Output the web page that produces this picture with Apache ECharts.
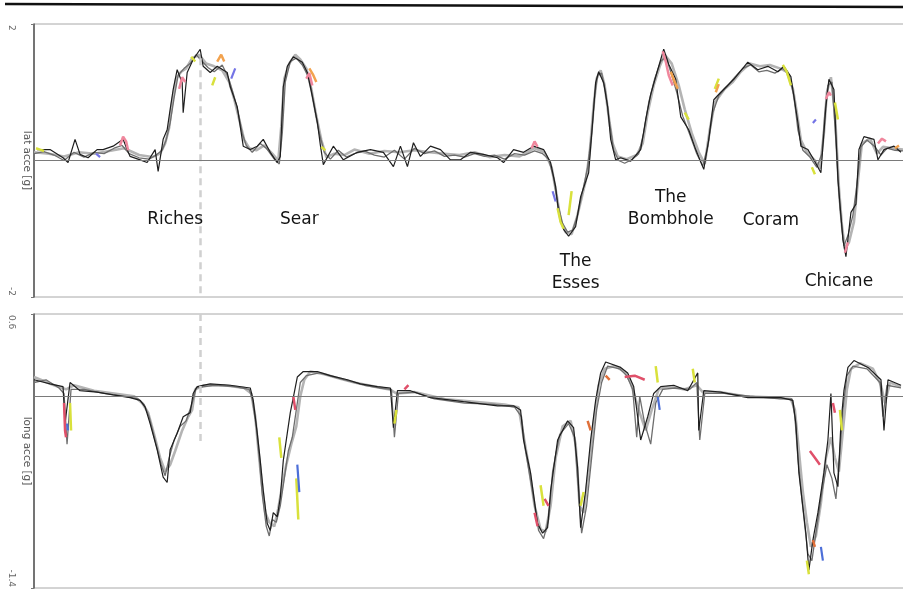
<!DOCTYPE html>
<html>
<head>
<meta charset="utf-8">
<title>Lateral and longitudinal acceleration</title>
<script src="https://cdn.jsdelivr.net/npm/echarts@6/dist/echarts.min.js"></script>
<style>
  html, body { margin: 0; padding: 0; background: #fff; }
  #chart { width: 903px; height: 592px; }
</style>
</head>
<body>
<div id="chart"></div>
<script>
// Distance along the lap (m, scaled) paired with acceleration in g.

// Lateral acceleration, three laps overlaid
const latLap1 = [[3,0.16],[16,0.16],[29,0.04],[34,-0.03],[41,0.31],[46,0.09],[54,0.04],[63,0.16],[69,0.16],[79,0.21],[89,0.31],[93,0.16],[96,0.06],[106,0.01],[113,-0.03],[121,0.16],[124,-0.16],[129,0.31],[133,0.45],[136,0.75],[139,1.04],[143,1.33],[148,1.14],[149,0.70],[153,1.29],[159,1.48],[166,1.63],[169,1.38],[176,1.29],[183,1.38],[193,1.29],[196,1.08],[203,0.79],[206,0.50],[209,0.21],[216,0.16],[223,0.21],[229,0.31],[236,0.12],[243,-0.03],[246,0.06],[249,1.08],[253,1.38],[259,1.52],[268,1.44],[273,1.29],[278,0.94],[283,0.56],[286,0.23],[289,-0.06],[299,0.21],[309,0.01],[323,0.12],[336,0.16],[349,0.12],[359,-0.09],[366,0.21],[373,-0.09],[379,0.26],[386,0.06],[396,0.21],[406,0.16],[416,0.01],[426,0.01],[436,0.12],[449,0.09],[463,0.04],[469,-0.03],[479,0.16],[489,0.12],[499,0.21],[509,0.16],[516,-0.03],[521,-0.38],[524,-0.76],[529,-1.01],[534,-1.11],[541,-0.97],[546,-0.53],[554,-0.18],[558,0.56],[561,1.14],[564,1.30],[569,1.14],[573,0.79],[576,0.31],[581,0.01],[586,0.04],[596,-0.01],[606,0.16],[611,0.60],[616,0.97],[623,1.33],[629,1.63],[634,1.41],[641,1.19],[646,0.64],[654,0.45],[661,0.16],[669,-0.13],[674,0.31],[679,0.89],[686,1.00],[699,1.19],[713,1.44],[723,1.33],[733,1.38],[743,1.30],[749,1.38],[756,1.23],[763,0.56],[766,0.21],[773,0.16],[779,0.01],[786,-0.18],[791,0.79],[794,1.19],[799,1.04],[803,-0.28],[808,-1.16],[811,-1.41],[816,-0.76],[821,-0.64],[824,0.16],[829,0.35],[839,0.31],[843,0.01],[849,0.16],[859,0.21],[866,0.12]];

const latLap2 = [[0,0.10],[10,0.13],[20,0.08],[30,0.0],[40,0.12],[50,0.05],[60,0.12],[70,0.10],[80,0.18],[88,0.22],[95,0.10],[105,0.04],[115,0.02],[122,0.08],[128,0.15],[132,0.30],[136,0.55],[140,0.92],[144,1.25],[150,1.35],[156,1.42],[162,1.55],[168,1.45],[174,1.36],[180,1.30],[188,1.40],[194,1.22],[199,0.98],[204,0.70],[208,0.40],[212,0.22],[218,0.12],[226,0.25],[232,0.18],[240,0.02],[245,-0.05],[248,0.40],[251,1.15],[256,1.45],[262,1.50],[268,1.40],[275,1.20],[280,0.80],[285,0.40],[290,0.12],[296,0.02],[304,0.15],[312,0.05],[320,0.10],[330,0.14],[340,0.08],[350,0.05],[360,0.15],[370,0.02],[380,0.18],[390,0.10],[400,0.14],[410,0.06],[420,0.08],[430,0.05],[440,0.10],[450,0.06],[460,0.08],[470,0.02],[480,0.10],[490,0.08],[500,0.14],[508,0.10],[514,0.02],[519,-0.25],[523,-0.62],[528,-0.92],[533,-1.05],[538,-1.02],[543,-0.80],[548,-0.45],[553,-0.10],[557,0.40],[560,0.95],[563,1.25],[567,1.28],[571,1.00],[575,0.55],[579,0.15],[584,0.00],[590,-0.04],[598,0.02],[604,0.10],[609,0.40],[614,0.85],[620,1.20],[626,1.45],[631,1.52],[636,1.30],[642,1.00],[648,0.65],[655,0.38],[662,0.10],[668,-0.08],[673,0.20],[678,0.70],[684,0.95],[692,1.08],[700,1.22],[708,1.35],[716,1.40],[724,1.30],[732,1.32],[740,1.28],[748,1.35],[754,1.25],[759,0.95],[763,0.45],[768,0.15],[775,0.05],[782,-0.10],[787,0.10],[790,0.70],[793,1.10],[797,1.15],[801,0.30],[805,-0.70],[809,-1.25],[813,-1.10],[818,-0.80],[822,-0.35],[826,0.20],[832,0.30],[840,0.20],[846,0.08],[852,0.18],[860,0.15],[868,0.14]];

const latLap3 = [[0,0.12],[15,0.10],[30,0.06],[45,0.12],[60,0.10],[75,0.14],[90,0.18],[105,0.08],[118,0.05],[126,0.10],[131,0.25],[135,0.48],[138,0.85],[142,1.20],[147,1.30],[152,1.35],[158,1.50],[165,1.55],[172,1.42],[180,1.38],[188,1.32],[195,1.15],[200,0.90],[205,0.60],[210,0.30],[215,0.18],[222,0.15],[230,0.22],[238,0.10],[244,0.00],[247,0.50],[250,1.20],[255,1.42],[261,1.55],[266,1.48],[272,1.35],[277,1.05],[282,0.65],[287,0.30],[292,0.05],[300,0.10],[310,0.08],[320,0.16],[335,0.10],[350,0.14],[365,0.12],[380,0.15],[395,0.12],[410,0.10],[425,0.08],[440,0.12],[455,0.05],[470,0.08],[485,0.06],[500,0.18],[510,0.12],[517,-0.10],[522,-0.50],[526,-0.88],[531,-1.05],[537,-1.08],[542,-0.85],[547,-0.55],[551,-0.30],[555,0.10],[559,0.80],[562,1.20],[566,1.32],[570,1.10],[574,0.65],[578,0.25],[583,0.06],[592,0.02],[602,0.08],[608,0.25],[613,0.70],[619,1.10],[625,1.38],[630,1.55],[637,1.42],[644,1.10],[650,0.75],[657,0.40],[664,0.12],[670,-0.05],[675,0.45],[680,0.85],[690,1.05],[698,1.15],[706,1.30],[715,1.42],[725,1.38],[735,1.40],[745,1.35],[752,1.30],[758,1.05],[762,0.70],[766,0.30],[772,0.12],[780,0.00],[785,-0.12],[789,0.40],[792,1.00],[796,1.22],[800,0.70],[804,-0.40],[807,-0.95],[810,-1.30],[814,-1.20],[819,-0.90],[823,-0.30],[827,0.25],[835,0.32],[842,0.10],[848,0.20],[858,0.18],[868,0.16]];

// Short stretches of the coloured laps (null breaks the line)
const latPink = [[86,0.22],[89,0.35],[92,0.28],[94,0.15],[95,null],[145,1.05],[148,1.22],[151,1.15],[152,null],[272,1.20],[275,1.28],[278,1.10],[279,null],[497,0.18],[500,0.28],[503,0.20],[504,null],[628,1.60],[631,1.45],[634,1.25],[638,1.10],[639,null],[791,0.90],[794,1.00],[796,0.95],[797,null],[810,-1.35],[813,-1.20],[814,null],[843,0.25],[847,0.32],[851,0.28]];
const latYellow = [[2,0.18],[6,0.16],[10,0.14],[11,null],[157,1.52],[161,1.45],[162,null],[178,1.10],[181,1.22],[182,null],[287,0.20],[291,0.15],[292,null],[523,-0.70],[526,-0.90],[529,-1.00],[530,null],[534,-0.80],[537,-0.45],[538,null],[650,0.70],[654,0.60],[655,null],[680,1.05],[684,1.20],[685,null],[748,1.40],[752,1.30],[756,1.10],[757,null],[777,-0.10],[780,-0.20],[781,null],[800,0.85],[803,0.60]];
const latOrange = [[183,1.45],[187,1.55],[190,1.45],[191,null],[275,1.35],[279,1.25],[282,1.15],[283,null],[636,1.30],[640,1.15],[643,1.05],[644,null],[681,1.00],[684,1.12],[685,null],[860,0.18],[864,0.22]];
const latBlue = [[62,0.10],[66,0.05],[67,null],[197,1.20],[201,1.35],[202,null],[518,-0.45],[521,-0.60],[522,null],[778,0.55],[781,0.60]];

// Longitudinal acceleration, three laps overlaid
const lonLap1 = [[0,0.12],[16,0.09],[29,0.07],[31,-0.20],[36,0.10],[46,0.04],[63,0.03],[79,0.01],[96,-0.01],[106,-0.03],[111,-0.08],[116,-0.20],[123,-0.39],[129,-0.59],[133,-0.63],[136,-0.39],[143,-0.27],[149,-0.15],[156,-0.12],[159,0.02],[163,0.07],[176,0.09],[196,0.08],[216,0.06],[219,-0.03],[223,-0.27],[226,-0.47],[229,-0.69],[233,-0.93],[236,-0.98],[239,-0.85],[243,-0.88],[246,-0.74],[249,-0.47],[253,-0.27],[256,-0.12],[259,-0.01],[263,0.14],[269,0.18],[283,0.18],[296,0.15],[313,0.12],[326,0.09],[343,0.07],[356,0.06],[359,-0.23],[363,0.04],[376,0.04],[396,-0.01],[429,-0.04],[463,-0.07],[479,-0.07],[486,-0.10],[489,-0.32],[496,-0.56],[503,-0.93],[508,-1.00],[513,-0.96],[516,-0.69],[523,-0.32],[533,-0.18],[539,-0.23],[543,-0.52],[546,-0.96],[551,-0.69],[556,-0.32],[561,-0.03],[566,0.17],[571,0.25],[586,0.21],[593,0.17],[599,0.07],[606,-0.32],[613,-0.15],[619,0.02],[626,0.07],[639,0.08],[653,0.04],[663,0.17],[664,-0.25],[669,0.04],[686,0.03],[713,-0.01],[746,-0.01],[758,-0.03],[761,-0.20],[764,-0.56],[768,-0.81],[771,-1.00],[774,-1.27],[778,-1.05],[783,-0.85],[789,-0.56],[793,-0.32],[796,0.02],[799,-0.56],[803,-0.66],[806,-0.20],[809,0.04],[813,0.21],[819,0.26],[833,0.21],[846,0.12],[849,-0.25],[853,0.12],[866,0.08]];

const lonLap2 = [[0,0.10],[12,0.12],[25,0.06],[30,0.02],[33,-0.35],[37,0.05],[50,0.05],[70,0.02],[90,0.00],[104,-0.02],[110,-0.06],[115,-0.15],[121,-0.32],[127,-0.50],[131,-0.58],[135,-0.45],[140,-0.32],[146,-0.22],[152,-0.18],[158,-0.05],[162,0.06],[180,0.08],[200,0.07],[215,0.05],[218,-0.02],[222,-0.22],[225,-0.45],[228,-0.72],[232,-0.95],[235,-1.02],[238,-0.90],[242,-0.92],[246,-0.80],[250,-0.60],[254,-0.40],[258,-0.30],[262,-0.10],[266,0.10],[272,0.15],[285,0.17],[300,0.14],[315,0.11],[330,0.08],[345,0.06],[357,0.05],[360,-0.30],[364,0.02],[380,0.03],[400,-0.02],[430,-0.05],[460,-0.06],[480,-0.08],[487,-0.15],[491,-0.40],[498,-0.70],[504,-0.98],[509,-1.04],[514,-0.90],[518,-0.55],[525,-0.28],[534,-0.20],[540,-0.30],[544,-0.70],[547,-1.00],[552,-0.80],[557,-0.45],[562,-0.10],[567,0.10],[573,0.22],[585,0.20],[592,0.15],[598,0.05],[602,-0.30],[605,0.00],[610,-0.20],[616,-0.35],[621,-0.05],[628,0.05],[640,0.06],[655,0.05],[662,0.10],[665,-0.32],[670,0.02],[690,0.02],[715,0.00],[745,-0.02],[757,-0.02],[760,-0.15],[763,-0.45],[767,-0.75],[770,-0.95],[773,-1.15],[777,-1.20],[782,-0.95],[787,-0.70],[792,-0.50],[797,-0.60],[801,-0.75],[805,-0.40],[808,-0.10],[812,0.15],[818,0.22],[832,0.20],[845,0.10],[848,-0.15],[852,0.08],[866,0.06]];

const lonLap3 = [[0,0.14],[20,0.08],[32,0.05],[40,0.08],[60,0.04],[80,0.02],[100,0.00],[108,-0.05],[114,-0.12],[120,-0.28],[126,-0.45],[131,-0.55],[136,-0.50],[141,-0.40],[148,-0.25],[154,-0.15],[158,-0.10],[161,0.05],[170,0.08],[190,0.08],[210,0.06],[217,0.02],[221,-0.15],[224,-0.38],[227,-0.60],[231,-0.85],[235,-0.92],[240,-0.95],[244,-0.82],[248,-0.65],[252,-0.50],[257,-0.35],[262,-0.22],[266,0.00],[270,0.12],[276,0.18],[290,0.16],[305,0.13],[320,0.10],[340,0.07],[355,0.05],[362,0.02],[380,0.03],[410,-0.02],[440,-0.04],[470,-0.06],[484,-0.08],[488,-0.25],[494,-0.50],[500,-0.80],[506,-0.97],[511,-0.99],[516,-0.80],[521,-0.45],[528,-0.22],[536,-0.18],[541,-0.35],[545,-0.80],[549,-0.85],[554,-0.55],[559,-0.20],[564,0.08],[570,0.20],[580,0.22],[590,0.18],[596,0.10],[604,-0.10],[611,-0.25],[617,-0.10],[624,0.05],[635,0.07],[650,0.05],[662,0.08],[668,0.03],[685,0.03],[710,0.00],[740,-0.01],[756,-0.02],[760,-0.10],[764,-0.40],[768,-0.70],[772,-0.92],[776,-1.10],[781,-1.02],[786,-0.78],[791,-0.45],[796,-0.30],[800,-0.45],[804,-0.55],[808,-0.25],[812,0.05],[816,0.20],[825,0.24],[838,0.20],[846,0.08],[850,-0.05],[855,0.10],[866,0.07]];

const lonRed = [[30,-0.05],[31,-0.25],[32,-0.30],[33,null],[259,0.00],[261,-0.10],[262,null],[370,0.05],[374,0.08],[375,null],[500,-0.85],[503,-0.95],[504,null],[510,-0.75],[514,-0.80],[515,null],[590,0.14],[600,0.15],[610,0.12],[611,null],[775,-0.40],[780,-0.45],[785,-0.50],[786,null],[798,-0.05],[800,-0.12]];
const lonYellow = [[36,-0.05],[37,-0.25],[38,null],[245,-0.30],[247,-0.45],[248,null],[262,-0.60],[264,-0.90],[265,null],[360,-0.20],[362,-0.10],[363,null],[506,-0.65],[509,-0.80],[510,null],[546,-0.80],[549,-0.70],[550,null],[621,0.22],[623,0.10],[624,null],[658,0.20],[660,0.10],[661,null],[772,-1.20],[774,-1.30],[775,null],[805,-0.10],[807,-0.25]];
const lonOrange = [[553,-0.18],[556,-0.25],[557,null],[571,0.15],[575,0.12],[576,null],[778,-1.05],[780,-1.10]];
const lonBlue = [[33,-0.20],[34,-0.25],[35,null],[263,-0.50],[265,-0.70],[266,null],[623,0.00],[625,-0.10],[626,null],[786,-1.10],[788,-1.20]];

// Corner names placed at [distance, lateral g]
const cornerNames = ['Riches', 'Sear', 'The\nEsses', 'The\nBombhole', 'Coram', 'Chicane'];
const cornerPos = [[141,-0.86],[265,-0.86],[541,-1.64],[636,-0.70],[736,-0.88],[804,-1.77]];

// Axis ranges; only the end values are labelled
const latRange = [-2, 2];
const lonRange = [-1.4, 0.6];
const latTickLabels = ['-2', '2'];
const lonTickLabels = ['-1.4', '0.6'];
const distRange = [0, 870];
const markerDist = 166;

const chart = echarts.init(document.getElementById('chart'), null, { renderer: 'canvas' });

function trace(data, color, width, grid, extra) {
  return Object.assign({
    type: 'line', xAxisIndex: grid, yAxisIndex: grid, data: data,
    showSymbol: false, symbol: 'none', connectNulls: false, silent: true,
    lineStyle: { color: color, width: width }, z: 3
  }, extra || {});
}

function yAxisFor(grid, range, name) {
  return {
    gridIndex: grid, type: 'value', min: range[0], max: range[1], interval: range[1] - range[0],
    name: name, nameLocation: 'middle', nameRotate: -90, nameGap: 2, nameMoveOverlap: false,
    nameTextStyle: { fontSize: 10.5, color: '#555', fontFamily: 'DejaVu Sans' },
    axisLine: { show: true, lineStyle: { color: '#555', width: 1.5 } },
    axisTick: { show: true, inside: false, length: 3, lineStyle: { color: '#777' } },
    axisLabel: { show: false },
    splitLine: { show: false }
  };
}

function xAxisFor(grid) {
  return {
    gridIndex: grid, type: 'value', min: distRange[0], max: distRange[1],
    axisLine: { show: false }, axisTick: { show: false }, axisLabel: { show: false }, splitLine: { show: false }
  };
}

const zeroLine = {
  silent: true, symbol: 'none', label: { show: false },
  lineStyle: { color: '#7a7a7a', width: 1, type: 'solid' },
  data: [{ yAxis: 0 }]
};

function dashedMarker(yFrom, yTo) {
  return {
    silent: true, symbol: 'none', label: { show: false },
    lineStyle: { color: '#d0d0d0', width: 2.5, type: [7, 5] },
    data: [[{ coord: [markerDist, yFrom] }, { coord: [markerDist, yTo] }]]
  };
}

const option = {
  animation: false,
  backgroundColor: '#ffffff',
  grid: [
    { left: 34, top: 24, right: -2, height: 273, outerBoundsMode: 'none', containLabel: false,
      show: true, borderColor: '#a8a8a8', borderWidth: 1 },
    { left: 34, top: 314, right: -2, height: 274, outerBoundsMode: 'none', containLabel: false,
      show: true, borderColor: '#a8a8a8', borderWidth: 1 }
  ],
  xAxis: [xAxisFor(0), xAxisFor(1)],
  yAxis: [yAxisFor(0, latRange, 'lat acce [g]'), yAxisFor(1, lonRange, 'long acce [g]')],
  series: [
    trace(latLap3, '#b4b4b4', 2.6, 0, { markLine: dashedMarker(1.5, -2), z: 2 }),
    trace(latLap2, '#6e6e6e', 1.3, 0, { markLine: zeroLine }),
    trace(latLap1, '#1e1e1e', 1.2, 0),
    trace(latPink, '#f0879d', 2.5, 0, { z: 4 }),
    trace(latYellow, '#d9e13c', 2.5, 0, { z: 4 }),
    trace(latOrange, '#f2a24e', 2.5, 0, { z: 4 }),
    trace(latBlue, '#7474e6', 2.2, 0, { z: 4 }),

    trace(lonLap3, '#b4b4b4', 2.6, 1, { markLine: dashedMarker(0.6, -0.36), z: 2 }),
    trace(lonLap2, '#6e6e6e', 1.3, 1, { markLine: zeroLine }),
    trace(lonLap1, '#1e1e1e', 1.2, 1),
    trace(lonRed, '#e0506a', 2.5, 1, { z: 4 }),
    trace(lonYellow, '#d9e13c', 2.5, 1, { z: 4 }),
    trace(lonOrange, '#e0703a', 2.5, 1, { z: 4 }),
    trace(lonBlue, '#4d6fd8', 2.2, 1, { z: 4 })
  ]
};

chart.setOption(option);

// Text placed through the grids' own scales
const overlay = [{
  type: 'line', silent: true,
  shape: { x1: 5, y1: 4, x2: 903, y2: 7 },
  style: { stroke: '#111', lineWidth: 2.5 }
}];

cornerPos.forEach((p, i) => {
  const px = chart.convertToPixel({ gridIndex: 0 }, p);
  overlay.push({
    type: 'text', silent: true, x: px[0], y: px[1], z: 10,
    style: {
      text: cornerNames[i], fill: '#141414', font: '17px "DejaVu Sans", Verdana, sans-serif',
      align: 'center', verticalAlign: 'middle', lineHeight: 22
    }
  });
});

// End-value tick labels, rotated to read downwards and kept inside each panel
function tickLabels(grid, range, texts) {
  const yLow = chart.convertToPixel({ gridIndex: grid }, [0, range[0]])[1];
  const yHigh = chart.convertToPixel({ gridIndex: grid }, [0, range[1]])[1];
  overlay.push({
    type: 'text', silent: true, x: 11, y: yLow - 1, rotation: -Math.PI / 2,
    style: { text: texts[0], fill: '#666', font: '9px "DejaVu Sans"', align: 'right', verticalAlign: 'middle' }
  });
  overlay.push({
    type: 'text', silent: true, x: 11, y: yHigh + 1, rotation: -Math.PI / 2,
    style: { text: texts[1], fill: '#666', font: '9px "DejaVu Sans"', align: 'left', verticalAlign: 'middle' }
  });
}
tickLabels(0, latRange, latTickLabels);
tickLabels(1, lonRange, lonTickLabels);

chart.setOption({ graphic: overlay });
</script>
</body>
</html>
